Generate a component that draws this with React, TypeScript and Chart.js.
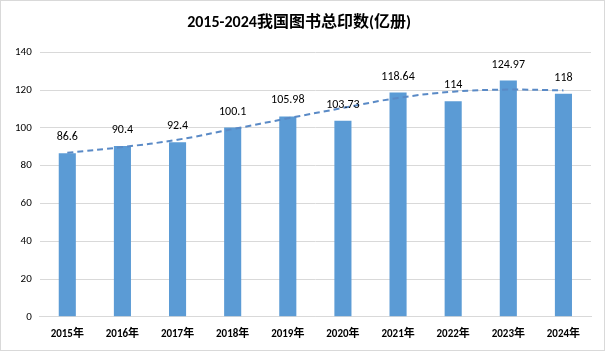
import React, { useEffect, useRef } from "react";
import { Chart, registerables } from "chart.js";

Chart.register(...registerables);

const categories = ["2015年", "2016年", "2017年", "2018年", "2019年", "2020年", "2021年", "2022年", "2023年", "2024年"];
const printVolume = [86.6, 90.4, 92.4, 100.1, 105.98, 103.73, 118.64, 114, 124.97, 118];
const trendValues = [86.8, 89.8, 93.7, 99.3, 105.0, 110.5, 115.8, 119.1, 120.2, 119.8];
const valueLabels = ["86.6", "90.4", "92.4", "100.1", "105.98", "103.73", "118.64", "114", "124.97", "118"];
const titleText = "2015-2024我国图书总印数(亿册)";

const FONT = "Carlito, 'Liberation Sans', 'Noto Sans CJK SC', sans-serif";

const barLabelPlugin = {
  id: "barLabels",
  afterDatasetsDraw(chart: any) {
    const ctx = chart.ctx;
    const meta = chart.getDatasetMeta(0);
    ctx.save();
    ctx.font = `12px ${FONT}`;
    ctx.fillStyle = "#000000";
    ctx.textAlign = "center";
    ctx.textBaseline = "bottom";
    meta.data.forEach((bar: any, i: number) => {
      ctx.fillText(valueLabels[i], bar.x, bar.y - 10);
    });
    ctx.restore();
  },
};

export default function App() {
  const ref = useRef<HTMLCanvasElement>(null);
  useEffect(() => {
    const chart = new Chart(ref.current!, {
      type: "bar",
      data: {
        labels: categories,
        datasets: [
          {
            type: "bar",
            data: printVolume,
            backgroundColor: "#5b9bd5",
            barPercentage: 0.62,
            categoryPercentage: 0.5,
            order: 2,
          },
          {
            type: "line",
            data: trendValues,
            borderColor: "#5a8ac6",
            borderWidth: 2,
            borderDash: [6, 4],
            pointRadius: 0,
            tension: 0.4,
            fill: false,
            order: 1,
          } as any,
        ],
      },
      options: {
        animation: false,
        responsive: false,
        maintainAspectRatio: false,
        layout: { padding: { left: 6, right: 13, top: 4, bottom: 6 } },
        plugins: {
          legend: { display: false },
          tooltip: { enabled: false },
          title: {
            display: true,
            text: titleText,
            color: "#000000",
            font: { family: FONT, size: 16, weight: "bold" },
            padding: { top: 8, bottom: 20 },
          },
        },
        scales: {
          x: {
            grid: { display: false },
            border: { display: true, color: "#d9d9d9" },
            ticks: { color: "#000000", font: { family: FONT, size: 11, weight: "bold" }, padding: 3 },
          },
          y: {
            min: 0,
            max: 140,
            ticks: { stepSize: 20, color: "#000000", font: { family: FONT, size: 11 }, padding: 8 },
            grid: { color: "#d9d9d9", drawTicks: false },
            border: { display: false },
          },
        },
      },
      plugins: [barLabelPlugin],
    });
    return () => chart.destroy();
  }, []);
  return (
    <div
      style={{
        position: "absolute",
        left: 0,
        top: 0,
        width: 605,
        height: 351,
        boxSizing: "border-box",
        border: "1px solid #d9d9d9",
        background: "#ffffff",
      }}
    >
      <canvas ref={ref} width={603} height={349} />
    </div>
  );
}
